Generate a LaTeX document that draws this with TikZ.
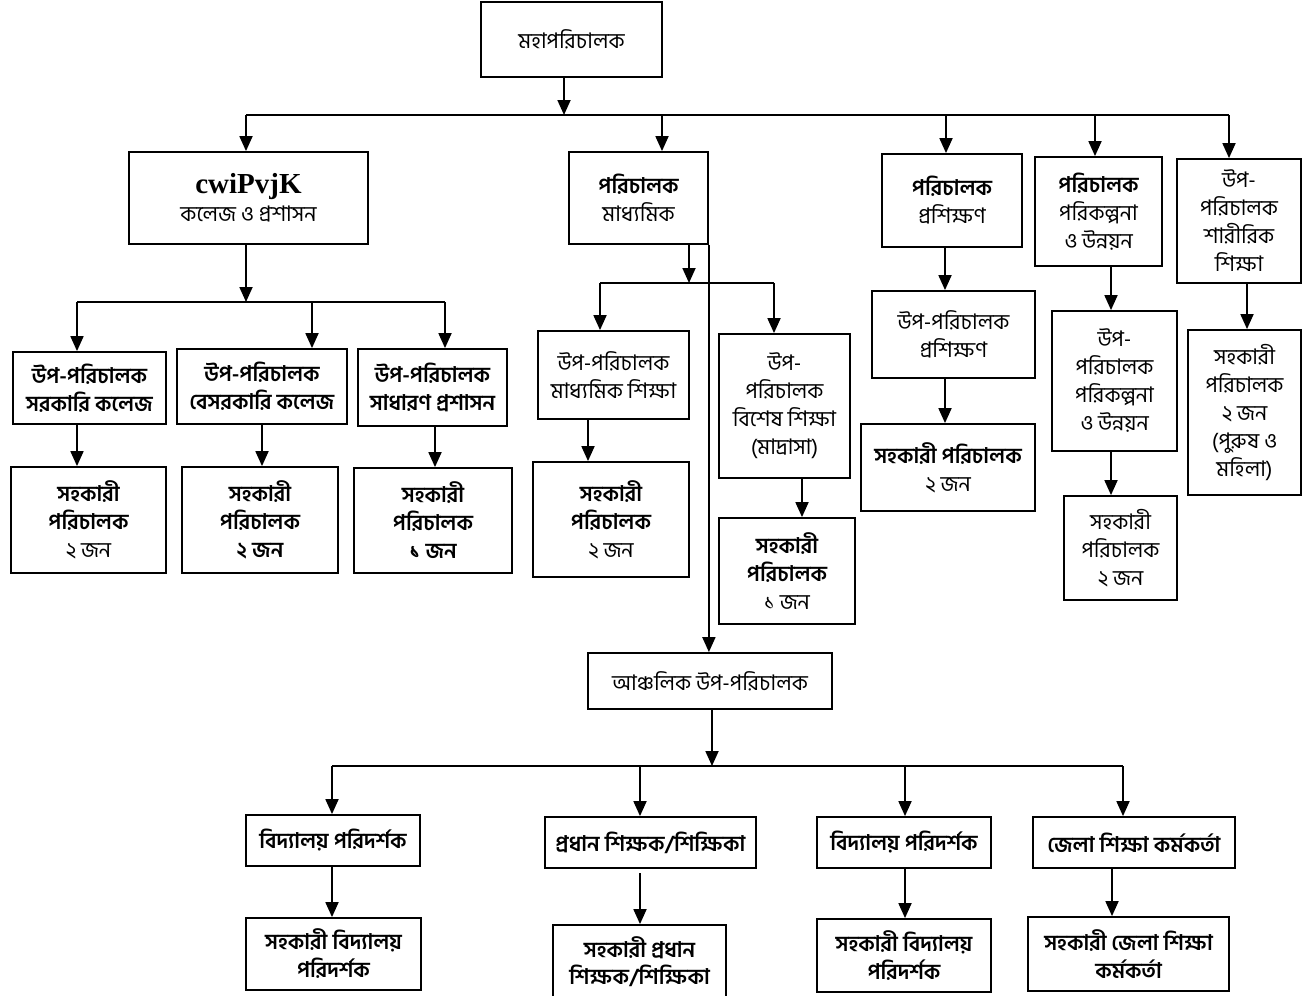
\documentclass[tikz,border=0pt]{standalone}
\usepackage{fontspec}
\setmainfont{Liberation Serif}
\newfontfamily\bn[Script=Bengali]{Hind Siliguri}
\usetikzlibrary{arrows.meta}
\begin{document}
\begin{tikzpicture}[x=1pt,y=-1pt,
  box/.style={draw, line width=1.8pt, align=center, inner sep=1pt,
    font=\bn\fontsize{21.5}{28}\selectfont},
  bbox/.style={box, font=\bn\bfseries\fontsize{21.5}{28}\selectfont},
  sz/.style n args={2}{minimum width=#1pt, minimum height=#2pt},
  ln/.style={line width=1.8pt},
  arr/.style={line width=1.8pt, -{Triangle[length=15pt,width=13pt]}}]
\useasboundingbox (0,0) rectangle (1312,996);
% top level
\node[box,sz={181}{75}] (top) at (571.5,39.5) {মহাপরিচালক};
\node[box,sz={239}{92}] (cw) at (248.5,198) {{\rmfamily\bfseries\fontsize{29}{32}\selectfont cwiPvjK}\\কলেজ ও প্রশাসন};
\node[box,sz={139}{92}] (mad) at (638.5,198) {{\bfseries পরিচালক}\\মাধ্যমিক};
\node[box,sz={140}{93}] (pro) at (952,200.5) {{\bfseries পরিচালক}\\প্রশিক্ষণ};
\node[box,sz={127}{109}] (plan) at (1098.5,211.5) {{\bfseries পরিচালক}\\পরিকল্পনা\\ও উন্নয়ন};
\node[box,sz={124}{124}] (phys) at (1239,221) {উপ-\\পরিচালক\\শারীরিক\\শিক্ষা};
% college branch
\node[bbox,sz={153}{72}] (s1) at (89.5,388) {উপ-পরিচালক\\সরকারি কলেজ};
\node[bbox,sz={170}{75}] (s2) at (262,386.5) {উপ-পরিচালক\\বেসরকারি কলেজ};
\node[bbox,sz={149}{77}] (s3) at (432.5,387.5) {উপ-পরিচালক\\সাধারণ প্রশাসন};
\node[box,sz={155}{106}] (a1) at (88.5,520) {{\bfseries সহকারী}\\{\bfseries পরিচালক}\\২ জন};
\node[bbox,sz={156}{106}] (a2) at (260,520) {সহকারী\\পরিচালক\\২ জন};
\node[bbox,sz={158}{105}] (a3) at (433,520.5) {সহকারী\\পরিচালক\\১ জন};
% secondary branch
\node[box,sz={151}{88}] (mm) at (613.5,375) {উপ-পরিচালক\\মাধ্যমিক শিক্ষা};
\node[box,sz={131}{144}] (bs) at (784.5,406) {উপ-\\পরিচালক\\বিশেষ শিক্ষা\\(মাদ্রাসা)};
\node[box,sz={156}{115}] (mmA) at (611,519.5) {{\bfseries সহকারী}\\{\bfseries পরিচালক}\\২ জন};
\node[box,sz={136}{106}] (bsA) at (787,571) {{\bfseries সহকারী}\\{\bfseries পরিচালক}\\১ জন};
% training branch
\node[box,sz={163}{87}] (upr) at (953.5,334.5) {উপ-পরিচালক\\প্রশিক্ষণ};
\node[box,sz={174}{87}] (prA) at (948,467.5) {{\bfseries সহকারী পরিচালক}\\২ জন};
% planning branch
\node[box,sz={125}{140}] (uplan) at (1114.5,381) {উপ-\\পরিচালক\\পরিকল্পনা\\ও উন্নয়ন};
\node[box,sz={113}{104}] (planA) at (1120.5,548) {সহকারী\\পরিচালক\\২ জন};
% physical education branch
\node[box,sz={113}{165}] (physA) at (1244.5,412.5) {সহকারী\\পরিচালক\\২ জন\\(পুরুষ ও\\মহিলা)};
% regional
\node[box,sz={244}{56}] (anc) at (710,681) {আঞ্চলিক উপ-পরিচালক};
\node[bbox,sz={174}{51}] (v1) at (333,840.5) {বিদ্যালয় পরিদর্শক};
\node[bbox,sz={211}{51}] (hm) at (650.5,842.5) {প্রধান শিক্ষক/শিক্ষিকা};
\node[bbox,sz={174}{51}] (v2) at (904,842.5) {বিদ্যালয় পরিদর্শক};
\node[bbox,sz={202}{51}] (dist) at (1134,842.5) {জেলা শিক্ষা কর্মকর্তা};
\node[bbox,sz={175}{72}] (va1) at (333.5,954) {সহকারী বিদ্যালয়\\পরিদর্শক};
\node[bbox,sz={173}{74},font=\bn\bfseries\fontsize{21.5}{27}\selectfont] (hmA) at (639.5,962) {সহকারী প্রধান\\শিক্ষক/শিক্ষিকা};
\node[bbox,sz={174}{73}] (va2) at (904,955.5) {সহকারী বিদ্যালয়\\পরিদর্শক};
\node[bbox,sz={201}{74}] (da) at (1128.5,954) {সহকারী জেলা শিক্ষা\\কর্মকর্তা};
% ---- connectors ----
% top bus
\coordinate (tb) at (564,115);
\coordinate (tb1) at (246,115);
\coordinate (tb2) at (662,115);
\coordinate (tb3) at (946,115);
\coordinate (tb4) at (1095,115);
\coordinate (tb5) at (1229,115);
\draw[arr] (top.south -| tb) -- (tb);
\draw[ln] (tb1) -- (tb5);
\draw[arr] (tb1) -- (tb1 |- cw.north);
\draw[arr] (tb2) -- (tb2 |- mad.north);
\draw[arr] (tb3) -- (tb3 |- pro.north);
\draw[arr] (tb4) -- (tb4 |- plan.north);
\draw[arr] (tb5) -- (tb5 |- phys.north);
% college bus
\coordinate (cb) at (246,302);
\coordinate (cb1) at (77,302);
\coordinate (cb2) at (312,302);
\coordinate (cb3) at (445,302);
\draw[arr] (cw.south -| cb) -- (cb);
\draw[ln] (cb1) -- (cb3);
\draw[arr] (cb1) -- (cb1 |- s1.north);
\draw[arr] (cb2) -- (cb2 |- s2.north);
\draw[arr] (cb3) -- (cb3 |- s3.north);
\coordinate (c1) at (77,0);
\coordinate (c2) at (262,0);
\coordinate (c3) at (435,0);
\draw[arr] (s1.south -| c1) -- (a1.north -| c1);
\draw[arr] (s2.south -| c2) -- (a2.north -| c2);
\draw[arr] (s3.south -| c3) -- (a3.north -| c3);
% secondary bus
\coordinate (mb) at (689,283);
\coordinate (mb1) at (600,283);
\coordinate (mb2) at (774,283);
\draw[arr] (mad.south -| mb) -- (mb);
\draw[ln] (mb1) -- (mb2);
\draw[arr] (mb1) -- (mb1 |- mm.north);
\draw[arr] (mb2) -- (mb2 |- bs.north);
\coordinate (m1) at (588,0);
\coordinate (m2) at (802,0);
\draw[arr] (mm.south -| m1) -- (mmA.north -| m1);
\draw[arr] (bs.south -| m2) -- (bsA.north -| m2);
\draw[arr] (mad.south east) -- (mad.south east |- anc.north);
% training
\coordinate (p1) at (945,0);
\draw[arr] (pro.south -| p1) -- (upr.north -| p1);
\draw[arr] (upr.south -| p1) -- (prA.north -| p1);
% planning
\coordinate (q1) at (1111,0);
\draw[arr] (plan.south -| q1) -- (uplan.north -| q1);
\draw[arr] (uplan.south -| q1) -- (planA.north -| q1);
% physical
\coordinate (r1) at (1247,0);
\draw[arr] (phys.south -| r1) -- (physA.north -| r1);
% regional bus
\coordinate (rb) at (712,766);
\coordinate (rb1) at (332,766);
\coordinate (rb2) at (640,766);
\coordinate (rb3) at (905,766);
\coordinate (rb4) at (1123,766);
\draw[arr] (anc.south -| rb) -- (rb);
\draw[ln] (rb1) -- (rb4);
\draw[arr] (rb1) -- (rb1 |- v1.north);
\draw[arr] (rb2) -- (rb2 |- hm.north);
\draw[arr] (rb3) -- (rb3 |- v2.north);
\draw[arr] (rb4) -- (rb4 |- dist.north);
\coordinate (d1) at (332,0);
\coordinate (d2) at (640,873);
\coordinate (d3) at (905,0);
\coordinate (d4) at (1112,0);
\draw[arr] (v1.south -| d1) -- (va1.north -| d1);
\draw[arr] (d2) -- (hmA.north -| d2);
\draw[arr] (v2.south -| d3) -- (va2.north -| d3);
\draw[arr] (dist.south -| d4) -- (da.north -| d4);
\end{tikzpicture}
\end{document}
